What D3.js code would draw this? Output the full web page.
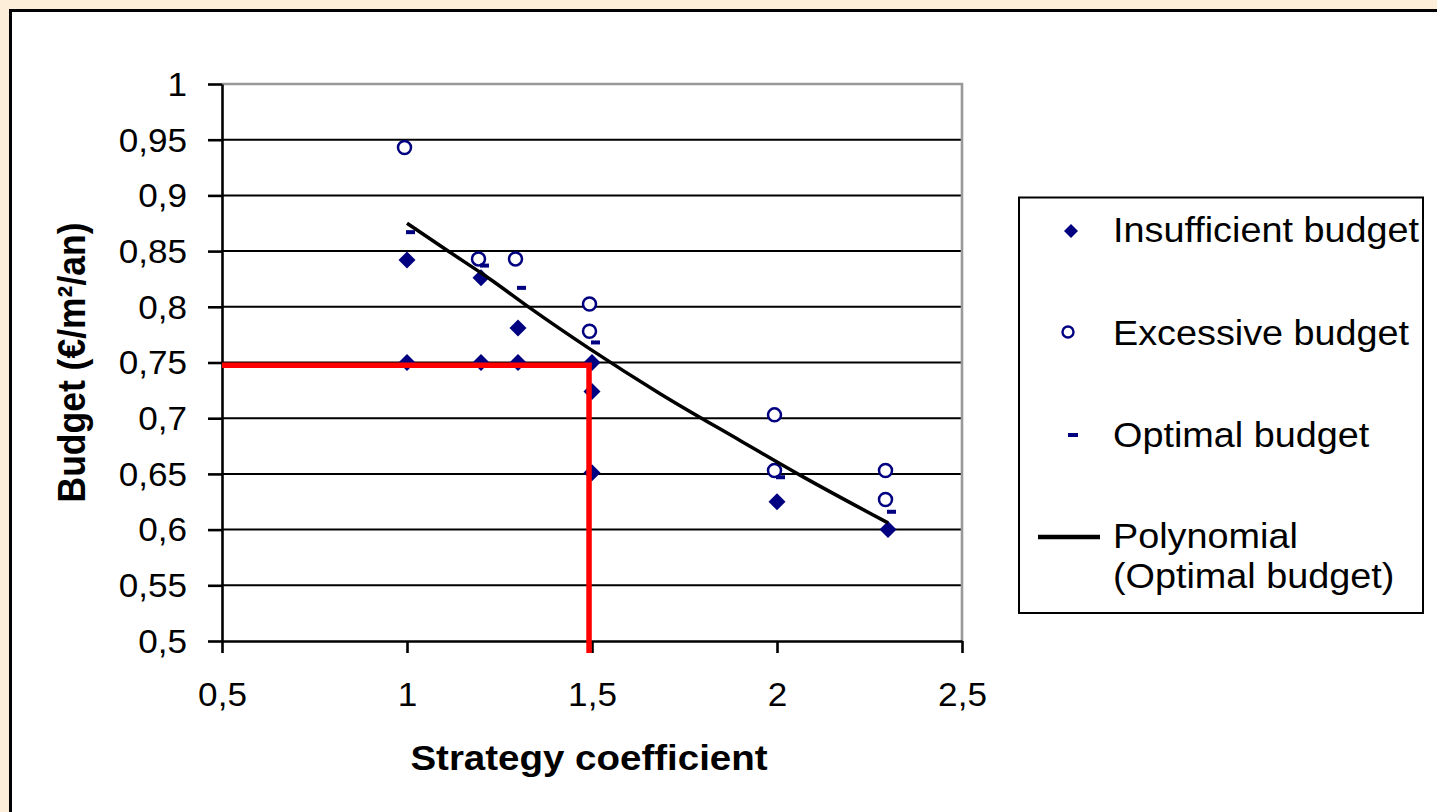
<!DOCTYPE html>
<html>
<head>
<meta charset="utf-8">
<script src="https://cdn.jsdelivr.net/npm/d3@7"></script>
<style>
  html, body { margin: 0; padding: 0; background: #fdeed9; }
  svg { display: block; }
  text { font-family: "Liberation Sans", Arial, sans-serif; fill: #000; }
</style>
</head>
<body>
<svg id="chart" width="1437" height="812"></svg>
<script>
// ---- data ----
const insufficientX = [1, 1, 1.2, 1.2, 1.3, 1.3, 1.5, 1.5, 1.5, 2, 2.3];
const insufficientY = [0.842, 0.75, 0.826, 0.75, 0.781, 0.75, 0.75, 0.724, 0.651, 0.625, 0.6];

const excessiveX = [1, 1.2, 1.3, 1.5, 1.5, 2, 2, 2.3, 2.3];
const excessiveY = [0.943, 0.843, 0.843, 0.8025, 0.778, 0.703, 0.653, 0.653, 0.627];

const optimalX = [1, 1.2, 1.3, 1.5, 2, 2.3];
const optimalY = [0.867, 0.837, 0.817, 0.768, 0.647, 0.616];

// polynomial trendline of the optimal budget
const trendX = [1, 1.116, 1.224, 1.332, 1.495, 1.684, 1.9, 2.067, 2.3];
const trendY = [0.875, 0.849, 0.825, 0.799, 0.762, 0.722, 0.680, 0.648, 0.606];

// red guide line (reading of the strategy coefficient 1.5 -> 0.75)
const guideX = 1.492;
const guideY = 0.7475;

const xTicks = [0.5, 1, 1.5, 2, 2.5];
const xTickLabels = ["0,5", "1", "1,5", "2", "2,5"];
const yTicks = [0.5, 0.55, 0.6, 0.65, 0.7, 0.75, 0.8, 0.85, 0.9, 0.95, 1];
const yTickLabels = ["0,5", "0,55", "0,6", "0,65", "0,7", "0,75", "0,8", "0,85", "0,9", "0,95", "1"];

const legendLabels = ["Insufficient budget", "Excessive budget", "Optimal budget", ["Polynomial", "(Optimal budget)"]];

const xTitle = "Strategy coefficient";
const yTitle = "Budget (€/m²/an)";

// ---- layout ----
const NAVY = "#000080";
const SX = 1.08; // horizontal stretch of the reference's text
const svg = d3.select("#chart");

// white chart area with black frame
svg.append("rect").attr("x", 10.5).attr("y", 10.5).attr("width", 1500).attr("height", 900)
  .attr("fill", "#fff").attr("stroke", "#000").attr("stroke-width", 3);

const x = d3.scaleLinear().domain([0.5, 2.5]).range([222, 962]);
const y = d3.scaleLinear().domain([0.5, 1]).range([641, 84]);

// gridlines
svg.append("g").selectAll("line")
  .data(yTicks.filter(v => v > 0.5 && v < 1))
  .join("line")
  .attr("x1", x(0.5)).attr("x2", x(2.5))
  .attr("y1", d => y(d)).attr("y2", d => y(d))
  .attr("stroke", "#000").attr("stroke-width", 2);

// plot border (top/right gray)
svg.append("path")
  .attr("d", `M${x(0.5)},${y(1)}H${x(2.5)}V${y(0.5)}`)
  .attr("fill", "none").attr("stroke", "#999").attr("stroke-width", 2.6);

// axes
const yAxis = svg.append("g").attr("transform", `translate(${x(0.5)},0)`)
  .call(d3.axisLeft(y).tickValues(yTicks).tickSize(14).tickSizeOuter(0)
    .tickFormat((d, i) => yTickLabels[i]));
const xAxis = svg.append("g").attr("transform", `translate(0,${y(0.5)})`)
  .call(d3.axisBottom(x).tickValues(xTicks).tickSize(12).tickSizeOuter(0)
    .tickFormat((d, i) => xTickLabels[i]));

[yAxis, xAxis].forEach(g => {
  g.select(".domain").attr("stroke", "#000").attr("stroke-width", 2.6);
  g.selectAll(".tick line").attr("stroke", "#000").attr("stroke-width", 2.6);
  g.selectAll(".tick text").attr("font-size", 32.5).attr("fill", "#000")
    .attr("font-family", '"Liberation Sans", Arial, sans-serif');
});
yAxis.selectAll(".tick text").attr("x", -35 / SX).attr("dy", "0.35em")
  .attr("transform", `scale(${SX},1)`);
xAxis.selectAll(".tick text").attr("y", 42).attr("dy", "0.71em")
  .attr("transform", `scale(${SX},1)`);

// markers
const diamond = (s) => `M0,${-s}L${s},0L0,${s}L${-s},0Z`;

svg.append("g").selectAll("path")
  .data(insufficientX.map((v, i) => [v, insufficientY[i]]))
  .join("path")
  .attr("transform", d => `translate(${x(d[0])},${y(d[1])})`)
  .attr("d", diamond(8.5)).attr("fill", NAVY);

svg.append("g").selectAll("circle")
  .data(excessiveX.map((v, i) => [v, excessiveY[i]]))
  .join("circle")
  .attr("cx", d => x(d[0]) - 2.5).attr("cy", d => y(d[1]))
  .attr("r", 6.5).attr("fill", "#fff").attr("stroke", NAVY).attr("stroke-width", 2.5);

svg.append("g").selectAll("rect")
  .data(optimalX.map((v, i) => [v, optimalY[i]]))
  .join("rect")
  .attr("x", d => x(d[0]) - 1).attr("y", d => y(d[1]) - 2)
  .attr("width", 9).attr("height", 4).attr("fill", NAVY);

// polynomial trendline
svg.append("path")
  .datum(trendX.map((v, i) => [v, trendY[i]]))
  .attr("d", d3.line().x(d => x(d[0])).y(d => y(d[1])).curve(d3.curveMonotoneX))
  .attr("fill", "none").attr("stroke", "#000").attr("stroke-width", 3.5);

// red guide
svg.append("path")
  .attr("d", `M${x(0.5)},${y(guideY)}H${x(guideX)}V${y(0.5) + 12}`)
  .attr("fill", "none").attr("stroke", "#ff0000").attr("stroke-width", 5.5)
  .attr("stroke-linejoin", "miter");

// axis titles
svg.append("text")
  .attr("transform", `translate(${(x(0.5) + x(2.5)) / 2 - 3},770) scale(${SX + 0.02},1)`)
  .attr("text-anchor", "middle").attr("font-size", 35).attr("font-weight", "bold")
  .text(xTitle);
svg.append("text")
  .attr("transform", `translate(85,${(y(0.5) + y(1)) / 2}) scale(${SX},1) rotate(-90)`)
  .attr("text-anchor", "middle").attr("font-size", 35.5).attr("font-weight", "bold")
  .text(yTitle);

// legend
const lg = svg.append("g");
lg.append("rect").attr("x", 1019).attr("y", 197.5).attr("width", 404).attr("height", 415.5)
  .attr("fill", "#fff").attr("stroke", "#000").attr("stroke-width", 2);

const legendBase = [241.5, 345, 446.5, 548];
const legendSymY = [231, 332, 435, 537];
lg.append("path").attr("transform", `translate(1071,${legendSymY[0]})`)
  .attr("d", diamond(7)).attr("fill", NAVY);
lg.append("circle").attr("cx", 1068).attr("cy", legendSymY[1]).attr("r", 5.5)
  .attr("fill", "#fff").attr("stroke", NAVY).attr("stroke-width", 2.4);
lg.append("rect").attr("x", 1068).attr("y", legendSymY[2] - 2).attr("width", 10).attr("height", 4)
  .attr("fill", NAVY);
lg.append("line").attr("x1", 1038).attr("x2", 1100).attr("y1", legendSymY[3]).attr("y2", legendSymY[3])
  .attr("stroke", "#000").attr("stroke-width", 4.5);

legendLabels.forEach((lab, i) => {
  const t = lg.append("text")
    .attr("transform", `translate(1113,${legendBase[i]}) scale(${SX},1)`)
    .attr("font-size", 35);
  if (Array.isArray(lab)) {
    lab.forEach((line, j) => t.append("tspan").attr("x", 0).attr("dy", j === 0 ? 0 : 40).text(line));
  } else {
    t.text(lab);
  }
});
</script>
</body>
</html>
